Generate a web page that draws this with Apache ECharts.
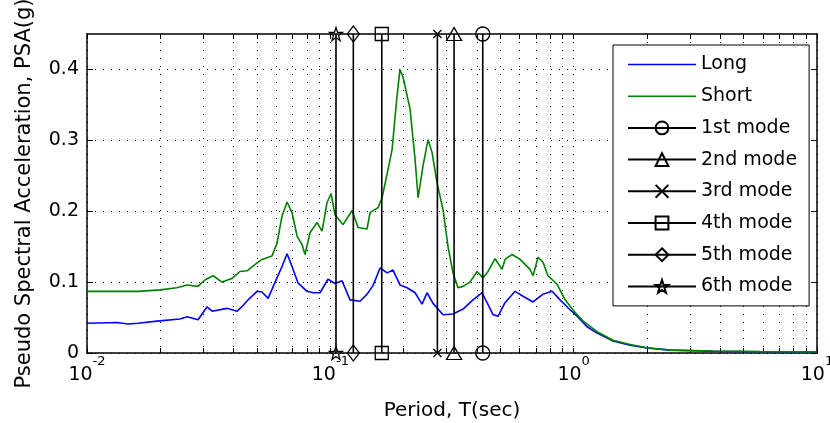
<!DOCTYPE html>
<html>
<head>
<meta charset="utf-8">
<script src="https://cdn.jsdelivr.net/npm/echarts@6/dist/echarts.min.js"></script>
<style>
  html, body { margin: 0; padding: 0; background: #fff; }
  #chart { width: 830px; height: 423px; }
</style>
</head>
<body>
<div id="chart"></div>
<script>
// spectra: period (s) and PSA (g)
const longPeriod = [0.0100, 0.01328, 0.01474, 0.0162, 0.0194, 0.0241, 0.0258, 0.0286, 0.0311, 0.0327,
  0.0376, 0.0414, 0.0438, 0.0459, 0.0500, 0.0524, 0.0555, 0.0593, 0.0633, 0.0664,
  0.0696, 0.0736, 0.0802, 0.0849, 0.0907, 0.0978, 0.1045, 0.1117, 0.1205, 0.1325,
  0.1416, 0.1498, 0.1601, 0.1710, 0.1810, 0.1933, 0.2067, 0.2230, 0.2382, 0.2497,
  0.2643, 0.2906, 0.3193, 0.3510, 0.3859, 0.4203, 0.4407, 0.4663, 0.4890, 0.5224,
  0.5743, 0.6194, 0.6809, 0.7482, 0.8153, 0.8793, 0.9665, 1.033, 1.135, 1.248,
  1.452, 1.706, 2.004, 2.490, 3.740, 5.84, 10]
const longPsa = [0.042, 0.043, 0.041, 0.042, 0.045, 0.048, 0.051, 0.047, 0.065, 0.059,
  0.063, 0.059, 0.067, 0.075, 0.087, 0.086, 0.077, 0.100, 0.122, 0.140,
  0.122, 0.099, 0.087, 0.085, 0.085, 0.104, 0.098, 0.102, 0.075, 0.073,
  0.083, 0.095, 0.120, 0.113, 0.117, 0.096, 0.092, 0.085, 0.069, 0.085,
  0.070, 0.054, 0.055, 0.062, 0.075, 0.085, 0.071, 0.054, 0.052, 0.071,
  0.087, 0.080, 0.072, 0.083, 0.087, 0.075, 0.061, 0.052, 0.037, 0.028,
  0.017, 0.011, 0.007, 0.004, 0.0025, 0.0018, 0.0012]

const shortPeriod = [0.0100, 0.0162, 0.0200, 0.0234, 0.0258, 0.0286, 0.0305, 0.0330, 0.0359, 0.0394,
  0.0425, 0.0455, 0.0500, 0.0524, 0.0576, 0.0604, 0.0633, 0.0664, 0.0696, 0.0730,
  0.0765, 0.0787, 0.0826, 0.0882, 0.0925, 0.0969, 0.1007, 0.1045, 0.1128, 0.1228,
  0.1300, 0.1416, 0.1456, 0.1571, 0.1631, 0.1710, 0.1794, 0.1880, 0.1933, 0.1990,
  0.2127, 0.2230, 0.2294, 0.2404, 0.2521, 0.2618, 0.2745, 0.2906, 0.3046, 0.3193,
  0.3347, 0.3510, 0.3750, 0.4007, 0.4243, 0.4448, 0.4753, 0.5078, 0.5224, 0.5582,
  0.6023, 0.6617, 0.6809, 0.7139, 0.7482, 0.7844, 0.8545, 0.9220, 1.014, 1.094,
  1.248, 1.452, 1.706, 2.004, 2.490, 3.740, 5.84, 10]
const shortPsa = [0.087, 0.087, 0.089, 0.092, 0.096, 0.094, 0.103, 0.109, 0.100, 0.105,
  0.115, 0.116, 0.127, 0.132, 0.137, 0.155, 0.193, 0.213, 0.198, 0.165,
  0.153, 0.139, 0.170, 0.184, 0.172, 0.212, 0.225, 0.195, 0.181, 0.201,
  0.177, 0.175, 0.198, 0.205, 0.219, 0.252, 0.287, 0.363, 0.400, 0.389,
  0.344, 0.273, 0.219, 0.264, 0.301, 0.283, 0.240, 0.202, 0.150, 0.113,
  0.092, 0.094, 0.100, 0.115, 0.106, 0.115, 0.133, 0.118, 0.132, 0.139,
  0.132, 0.118, 0.109, 0.135, 0.128, 0.109, 0.097, 0.075, 0.057, 0.045,
  0.030, 0.018, 0.012, 0.0075, 0.004, 0.0028, 0.002, 0.0014]

// modal periods, each drawn as a vertical stem from 0 to the top of the axes
const modeNames = ['1st mode', '2nd mode', '3rd mode', '4th mode', '5th mode', '6th mode']
const modePeriod = [0.423, 0.3225, 0.2754, 0.1627, 0.1243, 0.1055]
const modeTop = 0.45

const xTicks = [0.01, 0.02, 0.03, 0.04, 0.05, 0.06, 0.07, 0.08, 0.09,
  0.1, 0.2, 0.3, 0.4, 0.5, 0.6, 0.7, 0.8, 0.9,
  1, 2, 3, 4, 5, 6, 7, 8, 9, 10]
const xLabels = [0.01, 0.1, 1, 10]
const yTicks = [0, 0.1, 0.2, 0.3, 0.4]

const FONT = 'DejaVu Sans'
const star = 'path://M10,0L12.35,6.76L19.51,6.91L13.8,11.24L15.88,18.09L10,14L4.12,18.09L6.2,11.24L0.49,6.91L7.65,6.76Z'
const cross = 'path://M0,0L10,10M10,0L0,10'
const markers = [
  { symbol: 'circle', size: 14 },
  { symbol: 'triangle', size: [15, 13] },
  { symbol: cross, size: 8 },
  { symbol: 'rect', size: 13 },
  { symbol: 'diamond', size: [12, 16] },
  { symbol: star, size: 13 },
]
const legendLine = 'path://M0,0L68,0L68,1.5L0,1.5Z'

const zip = (xs, ys) => xs.map((x, i) => [x, ys[i]])

const modeSeries = modeNames.map((name, i) => ({
  name,
  type: 'line',
  data: [[modePeriod[i], 0], [modePeriod[i], modeTop]],
  symbol: markers[i].symbol,
  symbolSize: markers[i].size,
  showAllSymbol: true,
  clip: false,
  silent: true,
  lineStyle: { color: '#000', width: 1.6 },
  itemStyle: { color: 'transparent', borderColor: '#000', borderWidth: 1.3 },
}))

const dotted = { show: true, lineStyle: { color: '#000', width: 1, type: [1, 7] } }
const axisLine = { onZero: false, lineStyle: { color: '#000', width: 1.5 } }

const chart = echarts.init(document.getElementById('chart'))
chart.setOption({
  animation: false,
  textStyle: { fontFamily: FONT },
  grid: { left: 87, right: 13, top: 34, bottom: 70, outerBoundsMode: 'none', containLabel: false },
  legend: {
    left: 613,
    top: 45,
    orient: 'vertical',
    padding: [10, 12, 10, 14],
    itemWidth: 68,
    itemHeight: 16,
    itemGap: 12.7,
    selectedMode: false,
    backgroundColor: '#fff',
    borderColor: '#000',
    borderWidth: 1,
    borderRadius: 0,
    textStyle: { fontFamily: FONT, fontSize: 19, color: '#000' },
    data: [
      { name: 'Long', icon: legendLine },
      { name: 'Short', icon: legendLine },
      ...modeNames,
    ],
  },
  xAxis: [
    {
      type: 'log',
      logBase: 10,
      min: 0.01,
      max: 10,
      axisLine,
      axisTick: { inside: true, length: 5, customValues: xTicks, lineStyle: { color: '#000' } },
      axisLabel: {
        customValues: xLabels,
        margin: 2,
        formatter: v => '{b|10}{s|' + Math.round(Math.log10(v)) + '}',
        rich: {
          b: { fontFamily: FONT, fontSize: 19, color: '#000', lineHeight: 30, verticalAlign: 'bottom' },
          s: { fontFamily: FONT, fontSize: 13, color: '#000', lineHeight: 30, verticalAlign: 'top' },
        },
      },
      splitLine: dotted,
      name: 'Period, T(sec)',
      nameLocation: 'middle',
      nameGap: 48,
      nameTextStyle: { fontFamily: FONT, fontSize: 20, color: '#000' },
    },
    {
      type: 'log',
      logBase: 10,
      min: 0.01,
      max: 10,
      position: 'top',
      axisLine,
      axisTick: { inside: true, length: 5, customValues: xTicks, lineStyle: { color: '#000' } },
      axisLabel: { show: false },
      splitLine: { show: false },
    },
  ],
  yAxis: [
    {
      type: 'value',
      min: 0,
      max: modeTop,
      interval: 0.1,
      axisLine,
      axisTick: { inside: true, length: 6, customValues: yTicks, lineStyle: { color: '#000' } },
      axisLabel: {
        customValues: yTicks,
        margin: 8,
        fontFamily: FONT,
        fontSize: 19,
        color: '#000',
        formatter: v => (v === 0 ? '0' : v.toFixed(1)),
      },
      splitLine: dotted,
      name: 'Pseudo Spectral Acceleration, PSA(g)',
      nameLocation: 'middle',
      nameGap: 52,
      nameTextStyle: { fontFamily: FONT, fontSize: 21, color: '#000' },
    },
    {
      type: 'value',
      min: 0,
      max: modeTop,
      interval: 0.1,
      position: 'right',
      axisLine,
      axisTick: { inside: true, length: 6, customValues: yTicks, lineStyle: { color: '#000' } },
      axisLabel: { show: false },
      splitLine: { show: false },
    },
  ],
  series: [
    {
      name: 'Long',
      type: 'line',
      data: zip(longPeriod, longPsa),
      symbol: 'none',
      silent: true,
      color: '#0000ff',
      lineStyle: { width: 1.6 },
    },
    {
      name: 'Short',
      type: 'line',
      data: zip(shortPeriod, shortPsa),
      symbol: 'none',
      silent: true,
      color: '#008000',
      lineStyle: { width: 1.6 },
    },
    ...modeSeries,
  ],
})
</script>
</body>
</html>
